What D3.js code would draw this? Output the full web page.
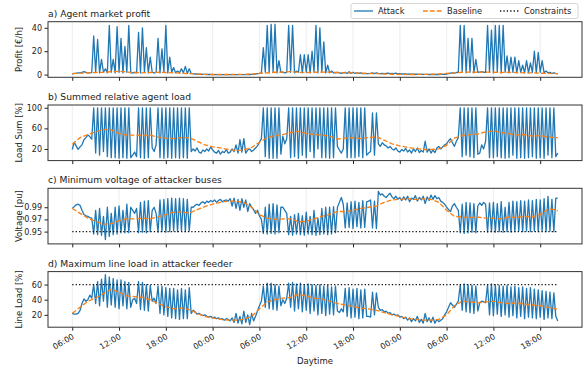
<!DOCTYPE html>
<html>
<head>
<meta charset="utf-8">
<script src="https://cdn.jsdelivr.net/npm/d3@7"></script>
<style>
body { margin: 0; background: #fff; }
text { font-family: "DejaVu Sans", sans-serif; fill: #222; }
</style>
</head>
<body>
<svg id="chart" width="585" height="367"></svg>
<script>
// attack series, 15 min steps starting 06:00 on day 1
var attackProfit = [
    0.5, 1, 1, 1.5, 1.5, 2, 2.5, 2, 1.5, 1.5, 2,
    33, 2, 30, 1.5, 13, 2, 5, 1.5, 42, 2, 13, 1.5, 41, 2, 31, 1.5, 24, 2, 42, 1.5,
    1.5, 2, 1.5,
    36, 1.5, 40, 2, 23, 1.5, 15,
    2, 1.5, 2,
    31, 1.5, 22, 2, 42, 1.5, 15, 2, 6, 1.5, 3, 1.5, 5, 1.5, 7, 1, 5, 1,
    0.8, 0.5, 0.5, 0.3, 0.3, 0.2, 0.2, 0.1, 0.1, 0.1, 0, 0, 0, 0, 0, 0, 0, 0, 0, 0,
    0, 0, 0, 0, 0, 0, 0, 0, 0.1, 0.1, 0.2, 0.3, 0.5, 0.8, 1, 1.5,
    23, 2, 42, 1.5, 43, 2, 43, 1.5, 12, 2,
    2, 1.5, 2,
    42, 2, 42, 1.5, 3, 2, 17, 1.5, 17, 2, 17, 1.5, 20, 2, 42, 1.5, 40, 2, 28, 1.5, 8, 1.5, 3, 1.5, 1.5,
    2, 1.5, 1, 1.5,
    2, 1, 2.5, 1, 2, 1, 1.5, 1, 1.5, 0.8, 1, 0.8,
    0.8, 1,
    1.5, 0.8, 1.5,
    1, 0.8, 1, 0.8, 1, 1.2, 0.8, 1, 0.8, 1.2, 0.6, 0.8, 0.5, 0.6, 0.5, 0.4, 0.5, 0.3, 0.4, 0.3,
    0.3, 0.2, 0.3, 0.2, 0.2, 0.2, 0.1, 0.2, 0.1, 0.1, 0.1, 0.1, 0.2, 0.2, 0.3, 0.5, 0.8, 1.2, 1.5, 1.2, 1.8, 2,
    42, 2, 42, 1.5, 31, 2, 31, 1.5, 13, 2,
    2, 2.5, 2, 2,
    42, 2, 38, 1.5, 42, 2, 42, 1.5, 42, 2, 16, 1.5, 15, 2, 15, 1.5, 12, 2, 8, 1.5,
    12, 1.5, 10, 2, 20, 1.5, 19, 2, 12, 1.5, 3, 1.5, 2, 1, 1.5, 1, 0.8
];
var attackLoad = [
    19, 33, 26, 19, 24, 28, 38, 42, 47, 44, 39,
    100, 12, 100, 8, 100, 15, 100, 5, 100, 3, 100, 3, 100, 2, 100, 3, 100, 2, 100, 3,
    8, 14, 5,
    100, 3, 100, 2, 100, 3, 100,
    22, 15, 28,
    100, 3, 100, 2, 100, 3, 100, 2, 100, 3, 100, 2, 100, 3, 100, 2, 100, 15,
    20, 16, 22, 14, 12, 18, 15, 20, 16, 24, 18, 14, 12, 17, 10, 15, 13, 19, 12, 14,
    20, 15, 28, 12, 38, 14, 40, 12, 18, 20, 15, 18, 22, 26, 33, 40,
    100, 5, 100, 2, 100, 2, 100, 2, 100, 10,
    45, 30, 40,
    100, 3, 100, 5, 100, 2, 100, 8, 100, 3, 100, 15, 100, 3, 100, 20, 100, 3, 100, 3, 100, 2, 100, 3, 100,
    25, 18, 12, 20,
    100, 3, 100, 3, 100, 3, 100, 5, 100, 3, 100, 8,
    12, 15,
    90, 8, 90,
    30, 25, 32, 28, 26, 22, 25, 20, 18, 22, 16, 14, 19, 16, 21, 14, 18, 12, 20, 15,
    22, 13, 17, 14, 35, 14, 20, 12, 18, 13, 22, 25, 20, 24, 28, 30, 36, 40, 32, 25, 35, 42,
    100, 5, 100, 8, 100, 5, 100, 3, 100, 10,
    12, 28, 20, 35,
    100, 3, 100, 3, 100, 5, 100, 3, 100, 2, 100, 3, 100, 8, 100, 2, 100, 3, 100, 2,
    100, 3, 100, 5, 100, 2, 100, 3, 100, 2, 100, 8, 100, 3, 100, 5, 12
];
var attackVoltage = [
    0.988, 0.991, 0.994, 0.995, 0.993, 0.985, 0.978, 0.976, 0.975, 0.973, 0.972,
    0.946, 0.985, 0.945, 0.988, 0.944, 0.975, 0.937, 0.99, 0.942, 0.98, 0.945, 0.99, 0.946, 0.992, 0.948, 0.985, 0.948, 0.995, 0.948, 0.99,
    0.985, 0.98, 0.988,
    0.948, 0.998, 0.949, 1.0, 0.948, 1.001, 0.95,
    0.985, 0.99, 0.98,
    0.949, 1.002, 0.95, 1.003, 0.949, 1.004, 0.95, 1.005, 0.951, 1.004, 0.95, 1.005, 0.951, 1.004, 0.95, 1.003, 0.951, 0.99,
    0.99, 0.993, 0.995, 0.993, 0.997, 0.999, 0.996, 1.0, 0.998, 1.001, 0.999, 1.002, 0.998, 1.001, 1.003, 0.999, 1.001, 1.002, 1.0, 1.004,
    0.992, 1.005, 0.988, 1.003, 0.985, 1.004, 0.99, 1.002, 0.983, 0.996, 0.99, 0.986, 0.98, 0.985, 0.976, 0.97,
    0.947, 0.99, 0.946, 0.995, 0.947, 0.996, 0.946, 0.994, 0.948, 0.99,
    0.99, 0.985, 0.98,
    0.945, 0.975, 0.944, 0.978, 0.946, 0.98, 0.945, 0.976, 0.944, 0.982, 0.946, 0.975, 0.945, 0.985, 0.944, 0.972, 0.945, 0.988, 0.946, 0.99, 0.945, 0.99, 0.946, 0.991, 0.948,
    0.99, 0.998, 1.006, 0.995,
    0.956, 0.997, 0.957, 0.999, 0.955, 1.0, 0.958, 0.998, 0.956, 1.001, 0.957, 0.999,
    1.0, 1.002,
    0.956, 1.0, 0.955,
    1.016, 1.01, 1.012, 1.008, 1.006, 1.01, 1.013, 1.007, 1.004, 1.008, 1.003, 1.006, 1.001, 1.007, 1.002, 1.008, 0.999, 1.005, 1.003, 1.009,
    1.0, 1.006, 1.002, 1.008, 0.996, 1.007, 1.001, 1.01, 1.003, 1.009, 1.004, 1.006, 1.0, 0.998, 0.995, 0.99, 0.986, 0.983, 0.992, 0.996, 0.99, 0.985,
    0.948, 0.995, 0.947, 0.998, 0.948, 0.997, 0.949, 0.996, 0.948, 0.992,
    0.997, 0.993, 0.998, 0.995,
    0.949, 0.997, 0.95, 0.998, 0.949, 0.996, 0.95, 0.999, 0.949, 0.99, 0.95, 0.998, 0.949, 1.0, 0.95, 0.999, 0.951, 1.001, 0.95, 1.0,
    0.951, 1.002, 0.95, 1.001, 0.951, 1.003, 0.95, 1.002, 0.951, 1.004, 0.95, 1.008, 0.951, 1.003, 0.95, 1.005, 1.005
];
var attackLineLoad = [
    22, 21, 21, 22, 26, 35, 41, 38, 40, 46, 42,
    60, 35, 64, 32, 67, 38, 73, 30, 70, 33, 68, 30, 66, 28, 66, 32, 64, 28, 63, 30,
    40, 42, 35,
    64, 27, 63, 26, 60, 25, 59,
    38, 42, 35,
    58, 22, 58, 20, 56, 18, 55, 16, 55, 15, 53, 14, 55, 15, 53, 15, 56, 22,
    26, 24, 21, 22, 20, 19, 20, 18, 17, 18, 16, 17, 15, 16, 14, 15, 13, 15, 14, 12,
    16, 10, 22, 9, 18, 8, 25, 10, 20, 7, 22, 12, 18, 25, 32, 38,
    58, 30, 62, 28, 62, 27, 60, 26, 58, 32,
    40, 35, 42,
    62, 30, 63, 25, 61, 28, 62, 24, 60, 26, 61, 22, 60, 25, 59, 20, 60, 22, 58, 19, 59, 21, 57, 20, 58,
    25, 23, 28, 24,
    55, 18, 56, 16, 54, 17, 55, 15, 53, 16, 54, 18,
    18, 17,
    50, 20, 49,
    30, 26, 27, 24, 25, 22, 23, 20, 21, 19, 20, 17, 18, 15, 17, 13, 16, 11, 15, 12,
    18, 10, 14, 9, 22, 11, 16, 10, 17, 9, 14, 11, 13, 15, 20, 24, 30, 36, 33, 30, 34, 38,
    60, 26, 61, 24, 60, 23, 59, 22, 58, 25,
    36, 38, 37, 36,
    60, 20, 61, 19, 60, 21, 59, 18, 58, 20, 59, 17, 57, 19, 58, 16, 56, 18, 57, 15,
    55, 17, 56, 16, 54, 15, 53, 17, 52, 14, 51, 16, 50, 15, 49, 18, 12
];

// baseline series, hourly from 06:00 day 1 (last point 20:15 day 3)
var baselineHours = [0, 1, 2, 3, 4, 5, 6, 7, 8, 9, 10, 11, 12, 13, 14, 15, 16, 17, 18, 19, 20,
    21, 22, 23, 24, 25, 26, 27, 28, 29, 30, 31, 32, 33, 34, 35, 36, 37, 38, 39, 40, 41,
    42, 43, 44, 45, 46, 47, 48, 49, 50, 51, 52, 53, 54, 55, 56, 57, 58, 59, 60, 61, 62, 62.25];
var baselineProfit = [0.8, 1.2, 1.5, 1.8, 2, 2.5, 2.8, 2.2, 1.8, 1.5, 1.8, 2, 1.8, 1.5, 1.2,
    0.8, 0.4, 0.2, 0.1, 0.1, 0.1, 0.1, 0.2, 0.4,
    1, 1.5, 2, 2.2, 2.5, 2, 1.8, 2, 2.2, 2, 1.8, 1.5, 1.5, 1.2, 1,
    0.8, 0.5, 0.3, 0.2, 0.1, 0.1, 0.2, 0.3, 0.5,
    1, 1.5, 2, 2.2, 2, 2.2, 2, 1.8, 2, 1.8, 1.5, 1.5, 1.2, 1, 0.8, 0.6];
var baselineLoad = [29, 42, 48, 53, 58, 57, 50, 47, 47, 46, 47, 43, 41, 40, 42, 42, 35, 28, 24, 22, 19,
    17, 18, 23, 33, 42, 46, 48, 52, 54, 50, 48, 47, 45, 39, 41, 42, 40, 42, 44, 37, 30,
    26, 23, 21, 19, 19, 20, 27, 41, 46, 48, 49, 53, 55, 52, 50, 47, 48, 45, 46, 43, 42, 42];
var baselineVoltage = [0.988, 0.98, 0.972, 0.967, 0.962, 0.963, 0.968, 0.971, 0.971, 0.972, 0.971,
    0.974, 0.978, 0.982, 0.982, 0.98, 0.986, 0.991, 0.995, 0.998, 1.0, 1.0, 0.998, 0.99,
    0.978, 0.972, 0.97, 0.971, 0.971, 0.966, 0.967, 0.971, 0.975, 0.978, 0.983, 0.983,
    0.985, 0.988, 0.99, 0.992, 0.998, 1.002, 1.003, 1.004, 1.003, 1.004, 1.003, 0.998,
    0.985, 0.975, 0.974, 0.973, 0.974, 0.972, 0.972, 0.971, 0.974, 0.973, 0.975, 0.974,
    0.978, 0.987, 0.986, 0.984];
var baselineLineLoad = [22, 30, 38, 42, 48, 54, 50, 45, 44, 43, 40, 35, 31, 28, 29, 27, 22, 18, 16, 14, 13,
    13, 14, 18, 28, 37, 40, 42, 43, 47, 45, 42, 41, 38, 35, 33, 31, 29, 28, 26, 23, 20,
    18, 15, 14, 13, 13, 14, 20, 32, 38, 37, 36, 37, 38, 36, 35, 36, 34, 33, 32, 30, 28, 27];

var panelTitles = ["a) Agent market profit", "b) Summed relative agent load",
    "c) Minimum voltage of attacker buses", "d) Maximum line load in attacker feeder"];
var panelYLabels = ["Profit [\u20ac/h]", "Load Sum [%]", "Voltage [pu]", "Line Load [%]"];
var panelDomains = [[-2.3, 45.2], [-2.6, 105.4], [0.9298, 1.0211], [3.7, 77.1]];
var panelYTicks = [[0, 20, 40], [20, 60, 100], [0.95, 0.97, 0.99], [20, 40, 60]];
var panelConstraints = [null, null, 0.95, 60];
var legendLabels = ["Attack", "Baseline", "Constraints"];

var blue = "#1f77b4", orange = "#ff7f0e";
var start = new Date(2021, 0, 4, 6, 0), hourMs = 3600e3;
var atHour = function (h) { return new Date(+start + h * hourMs); };

var attackTimes = attackProfit.map(function (d, i) { return atHour(i * 0.25); });
var baselineTimes = baselineHours.map(atHour);

var panels = [
    {attack: attackProfit, baseline: baselineProfit, fmt: d3.format("d")},
    {attack: attackLoad, baseline: baselineLoad, fmt: d3.format("d")},
    {attack: attackVoltage, baseline: baselineVoltage, fmt: d3.format(".2f")},
    {attack: attackLineLoad, baseline: baselineLineLoad, fmt: d3.format("d")}
];

var svg = d3.select("#chart");
var left = 48, right = 582, top0 = 21.7, step = 83.3, ph = 55.6;

var x = d3.scaleTime()
    .domain([atHour(-3.11), atHour(65.36)])
    .range([left, right]);
var xTicks = d3.range(0, 61, 6).map(atHour);

panels.forEach(function (p, k) {
    var top = top0 + step * k;
    var y = d3.scaleLinear().domain(panelDomains[k]).range([top + ph, top]);
    var g = svg.append("g");

    g.append("clipPath").attr("id", "clip" + k)
        .append("rect").attr("x", left).attr("y", top).attr("width", right - left).attr("height", ph);

    // grid
    g.selectAll(".grid").data(xTicks).enter().append("line")
        .attr("x1", function (d) { return x(d); }).attr("x2", function (d) { return x(d); })
        .attr("y1", top).attr("y2", top + ph)
        .attr("stroke", "#e8e8e8").attr("stroke-width", 0.8);

    var plot = g.append("g").attr("clip-path", "url(#clip" + k + ")");

    var line = d3.line()
        .x(function (d) { return x(d[0]); })
        .y(function (d) { return y(d[1]); });

    plot.append("path")
        .datum(p.attack.map(function (v, i) { return [attackTimes[i], v]; }))
        .attr("d", line).attr("fill", "none")
        .attr("stroke", blue).attr("stroke-width", 1.3).attr("stroke-linejoin", "round");

    plot.append("path")
        .datum(p.baseline.map(function (v, i) { return [baselineTimes[i], v]; }))
        .attr("d", line).attr("fill", "none")
        .attr("stroke", orange).attr("stroke-width", 1.3).attr("stroke-dasharray", "4.8,2.1");

    if (panelConstraints[k] !== null) {
        plot.append("path")
            .datum([[attackTimes[0], panelConstraints[k]], [attackTimes[attackTimes.length - 1], panelConstraints[k]]])
            .attr("d", line).attr("fill", "none")
            .attr("stroke", "#111").attr("stroke-width", 1.2).attr("stroke-dasharray", "1.3,2.1");
    }

    // axes
    var yAxis = g.append("g").attr("transform", "translate(" + left + ",0)")
        .call(d3.axisLeft(y).tickValues(panelYTicks[k]).tickFormat(p.fmt).tickSize(3.5).tickPadding(2.5));
    yAxis.select(".domain").remove();
    yAxis.selectAll("text").style("font-size", "8px").style("font-family", "DejaVu Sans");
    yAxis.selectAll("line").attr("stroke", "#222");

    var xAxis = g.append("g").attr("transform", "translate(0," + (top + ph) + ")")
        .call(d3.axisBottom(x).tickValues(xTicks).tickFormat(k === 3 ? d3.timeFormat("%H:%M") : "").tickSize(3.5));
    xAxis.select(".domain").remove();
    xAxis.selectAll("line").attr("stroke", "#222");
    if (k === 3) {
        xAxis.selectAll("text")
            .style("font-size", "8px").style("font-family", "DejaVu Sans")
            .style("text-anchor", "end")
            .attr("y", 0).attr("dy", 0)
            .attr("transform", "translate(2,11) rotate(-30)");
    }

    g.append("rect").attr("x", left).attr("y", top).attr("width", right - left).attr("height", ph)
        .attr("fill", "none").attr("stroke", "#333").attr("stroke-width", 1);

    g.append("text").attr("x", left).attr("y", top - 5)
        .style("font-size", "9.2px").text(panelTitles[k]);

    g.append("text")
        .attr("transform", "translate(22," + (top + ph / 2) + ") rotate(-90)")
        .attr("text-anchor", "middle")
        .style("font-size", "8.5px").text(panelYLabels[k]);
});

svg.append("text").attr("x", (left + right) / 2).attr("y", 364)
    .attr("text-anchor", "middle").style("font-size", "8.5px").text("Daytime");

// legend
var lg = svg.append("g");
lg.append("rect").attr("x", 351).attr("y", 3.5).attr("width", 227).attr("height", 15).attr("rx", 2)
    .attr("fill", "#fff").attr("fill-opacity", 0.8).attr("stroke", "#cccccc").attr("stroke-width", 0.8);
var legendX = [354, 423, 500];
var legendStyle = [
    {color: blue, dash: null},
    {color: orange, dash: "4.8,2.1"},
    {color: "#111", dash: "1.3,2.1"}
];
legendLabels.forEach(function (lab, i) {
    lg.append("line").attr("x1", legendX[i]).attr("x2", legendX[i] + 19).attr("y1", 11).attr("y2", 11)
        .attr("stroke", legendStyle[i].color).attr("stroke-width", 1.3)
        .attr("stroke-dasharray", legendStyle[i].dash);
    lg.append("text").attr("x", legendX[i] + 24).attr("y", 14)
        .style("font-size", "8.3px").text(lab);
});
</script>
</body>
</html>
